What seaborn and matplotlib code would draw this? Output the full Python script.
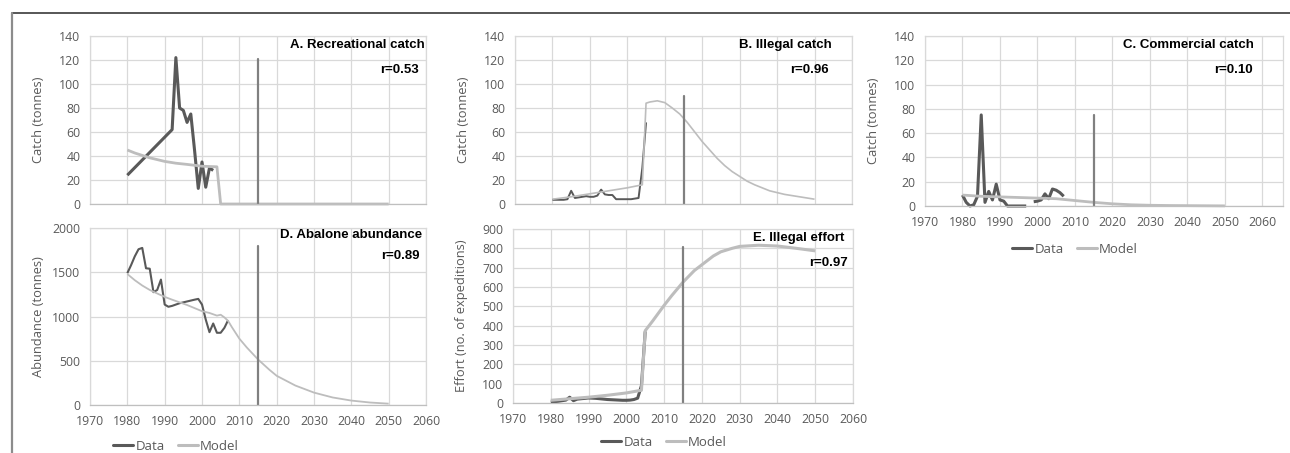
import numpy as np
import pandas as pd
import matplotlib.pyplot as plt
from matplotlib.lines import Line2D
import seaborn as sns

# --- data ---
marker_year = 2015

# A. Recreational catch (tonnes)
a_data_years = [1980, 1992, 1993, 1994, 1995, 1996, 1997, 1998, 1999, 2000, 2001, 2002, 2003]
a_data = [24, 62, 122, 80, 78, 68, 75, 45, 13, 35, 14, 30, 28]
a_model_years = [1980, 1982, 1984, 1986, 1988, 1990, 1993, 1996, 2000, 2004, 2005, 2050]
a_model = [45, 42.5, 40.5, 38.5, 37, 35.5, 34, 33, 31.5, 31, 0, 0]
a_marker_top = 121

# B. Illegal catch (tonnes)
b_data_years = list(range(1980, 2006))
b_data = [3.5, 3.5, 3.5, 3.5, 4, 11, 5, 5.5, 6, 6.5, 6, 6, 7, 12, 8, 7.5, 7.5,
          4, 4, 4, 4, 4, 4.5, 5, 30, 68]
b_model_years = [1980, 1985, 1990, 1995, 2000, 2004, 2005, 2006, 2008, 2010, 2012, 2014,
                 2016, 2018, 2020, 2022, 2024, 2026, 2028, 2030, 2032, 2034, 2036,
                 2038, 2040, 2042, 2044, 2046, 2048, 2050]
b_model = [4, 6, 8.5, 11, 13.5, 16, 84, 85, 86, 84.5, 80, 75, 68, 60, 52, 45, 38,
           32, 27, 23, 19, 16, 13.5, 11, 9.5, 8, 7, 6, 5, 4]
b_marker_top = 90

# C. Commercial catch (tonnes), 1998 missing
c_data_years = list(range(1980, 2008))
c_data = [9, 3, 0, 1, 8, 75, 3, 12, 5, 18, 5, 4, 0, 0, 0, 0, 0, 0, np.nan,
          3.5, 4, 5, 10, 6, 14, 13, 11, 8]
c_model_years = [1980, 1985, 1990, 1995, 2000, 2005, 2010, 2015, 2020, 2025,
                 2030, 2035, 2040, 2045, 2050]
c_model = [9, 8, 7.5, 7, 6.5, 6, 4.5, 3, 1.8, 1.0, 0.6, 0.4, 0.3, 0.2, 0.1]
c_marker_top = 75

# D. Abalone abundance (tonnes)
d_data_years = list(range(1980, 2008))
d_data = [1490, 1580, 1680, 1760, 1775, 1545, 1540, 1275, 1300, 1417, 1135, 1110,
          1120, 1135, 1150, 1160, 1170, 1180, 1190, 1199, 1135, 966, 823, 921,
          816, 816, 872, 959]
d_model_years = [1980, 1982, 1984, 1986, 1988, 1990, 1992, 1994, 1996, 1998, 2000,
                 2002, 2004, 2005, 2006, 2007, 2008, 2010, 2012, 2015, 2018, 2020,
                 2025, 2030, 2035, 2040, 2045, 2050]
d_model = [1480, 1410, 1350, 1300, 1260, 1222, 1190, 1160, 1130, 1095, 1060, 1040,
           1010, 1020, 990, 950, 880, 750, 650, 515, 400, 330, 220, 140, 85, 50, 28, 15]
d_marker_top = 1800

# E. Illegal effort (no. of expeditions)
e_data_years = list(range(1980, 2006))
e_data = [5, 7, 9, 12, 15, 30, 12, 20, 22, 24, 26, 25, 24, 22, 20, 18, 17, 16,
          15, 14, 14, 15, 18, 25, 90, 370]
e_model_years = [1980, 1985, 1990, 1995, 2000, 2004, 2005, 2007, 2010, 2012, 2015,
                 2018, 2020, 2023, 2025, 2028, 2030, 2035, 2040, 2045, 2050]
e_model = [14, 22, 30, 40, 52, 66, 374, 425, 505, 555, 625, 685, 715, 760, 782,
           800, 810, 816, 812, 800, 787]
e_marker_top = 805

panel_titles = ["A. Recreational catch", "B. Illegal catch", "C. Commercial catch",
                "D. Abalone abundance", "E. Illegal effort"]
panel_r = ["r=0.53", "r=0.96", "r=0.10", "r=0.89", "r=0.97"]
panel_ylabels = ["Catch (tonnes)", "Catch (tonnes)", "Catch (tonnes)",
                 "Abundance (tonnes)", "Effort (no. of expeditions)"]
legend_labels = ["Data", "Model"]

# --- style ---
sns.set_style("white")
plt.rcParams['font.family'] = ['Open Sans', 'DejaVu Sans']

DATA_COL = "#595959"
MODEL_COL = "#bdbdbd"
MARK_COL = "#808080"
GRID_COL = "#d9d9d9"
TXT_COL = "#595959"

W, H = 1290, 453
fig = plt.figure(figsize=(W / 100, H / 100), dpi=100)


def box(l, t, r, b):
    # pixel box -> figure fraction
    return [l / W, 1 - b / H, (r - l) / W, (b - t) / H]


def draw_series(ax, years, values, color, lw):
    df = pd.DataFrame({"year": years, "val": values})
    seg = df["val"].isna().cumsum()
    df = df.assign(seg=seg).dropna()
    for _, part in df.groupby("seg"):
        sns.lineplot(data=part, x="year", y="val", ax=ax, color=color, lw=lw,
                     estimator=None, sort=False, clip_on=False,
                     solid_capstyle="butt")


panels = [
    dict(box=box(90, 36, 426, 204), data=(a_data_years, a_data), model=(a_model_years, a_model),
         top=a_marker_top, ylim=140, ystep=20, xmax=2060, xlabels=False, lw=(2.2, 2.0),
         title_pos=(0.995, 0.946), r_pos=(0.979, 0.80)),
    dict(box=box(515, 36, 852, 204), data=(b_data_years, b_data), model=(b_model_years, b_model),
         top=b_marker_top, ylim=140, ystep=20, xmax=2060, xlabels=False, lw=(1.4, 1.2),
         title_pos=(0.94, 0.946), r_pos=(0.93, 0.80)),
    dict(box=box(925, 36, 1283, 206), data=(c_data_years, c_data), model=(c_model_years, c_model),
         top=c_marker_top, ylim=140, ystep=20, xmax=2065.5, xlabels=True, lw=(2.2, 2.0),
         title_pos=(0.92, 0.947), r_pos=(0.916, 0.80)),
    dict(box=box(90, 228, 426, 405), data=(d_data_years, d_data), model=(d_model_years, d_model),
         top=d_marker_top, ylim=2000, ystep=500, xmax=2060, xlabels=True, lw=(1.5, 1.3),
         title_pos=(0.988, 0.96), r_pos=(0.982, 0.84)),
    dict(box=box(513, 229, 853, 403), data=(e_data_years, e_data), model=(e_model_years, e_model),
         top=e_marker_top, ylim=900, ystep=100, xmax=2060, xlabels=True, lw=(2.2, 2.2),
         title_pos=(0.976, 0.948), r_pos=(0.985, 0.805)),
]

for i, p in enumerate(panels):
    ax = fig.add_axes(p["box"])
    draw_series(ax, *p["data"], DATA_COL, p["lw"][0])
    draw_series(ax, *p["model"], MODEL_COL, p["lw"][1])
    sns.lineplot(x=[marker_year, marker_year], y=[0, p["top"]], ax=ax, color=MARK_COL,
                 lw=1.6, estimator=None, sort=False)

    ax.set_xlim(1970, p["xmax"])
    ax.set_ylim(0, p["ylim"])
    ax.set_xticks(range(1970, 2061, 10))
    ax.set_yticks(np.arange(0, p["ylim"] + 1, p["ystep"]))
    ax.grid(True, color=GRID_COL, lw=0.9)
    ax.set_axisbelow(True)
    for s in ax.spines.values():
        s.set_color(GRID_COL)
        s.set_linewidth(0.9)
    ax.spines["bottom"].set_color("#bfbfbf")
    ax.tick_params(length=0, pad=7, labelsize=8.8, labelcolor=TXT_COL)
    if not p["xlabels"]:
        ax.set_xticklabels([])
    ax.set_xlabel("")
    ax.set_ylabel(panel_ylabels[i], fontsize=9.3, color=TXT_COL)
    ax.yaxis.set_label_coords(-45 / (p["box"][2] * W), 0.5)

    ax.text(*p["title_pos"], panel_titles[i], transform=ax.transAxes, ha="right",
            va="center", fontsize=9.5, fontweight="bold", family="Liberation Sans",
            color="black")
    ax.text(*p["r_pos"], panel_r[i], transform=ax.transAxes, ha="right",
            va="center", fontsize=9.5, fontweight="bold", family="Liberation Sans",
            color="black")

# legends under C, D and E
handles = [Line2D([], [], color=DATA_COL, lw=2.2), Line2D([], [], color=MODEL_COL, lw=2.2)]
for cx, cy in [(1075, 249), (176, 446), (664, 442)]:
    fig.legend(handles, legend_labels, loc="center", bbox_to_anchor=(cx / W, 1 - cy / H),
               ncol=2, frameon=False, handlelength=1.5, handletextpad=0.2,
               columnspacing=1.0, prop={"size": 9.5},
               labelcolor=TXT_COL, borderpad=0.1)

# frame lines of the original figure
fig.add_artist(Line2D([12 / W, 1], [1 - 13 / H, 1 - 13 / H], transform=fig.transFigure,
                      color="#3a3a3a", lw=1.2))
fig.add_artist(Line2D([12 / W, 12 / W], [0, 1 - 13 / H], transform=fig.transFigure,
                      color="#8c8c8c", lw=1.6))

fig.savefig("out.png", dpi=100)
